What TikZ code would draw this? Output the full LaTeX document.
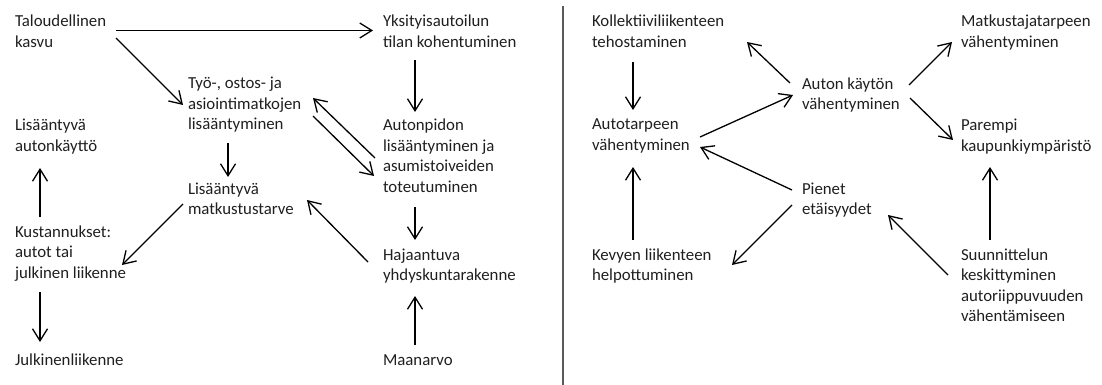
\documentclass[tikz,border=0pt]{standalone}
\usepackage{fontspec}
\setmainfont{Carlito}
\usetikzlibrary{arrows.meta,calc}
\tikzset{
  lbl/.style={anchor=north west, inner sep=0pt, outer sep=0pt, align=left,
    font=\fontsize{16.8}{20.5}\selectfont, text=black!88,
    execute at begin node=\strut, execute at end node=\strut},
  arr/.style={line width=1.3pt, -{Straight Barb[length=12pt,width=15pt]}},
  sep/.style={line width=1.6pt, draw=black!65}
}
\begin{document}
\begin{tikzpicture}[x=1pt,y=-1pt]
\useasboundingbox (0,0) rectangle (1102,385);
% left part
\node[lbl] (tal) at (15,15.15) {Taloudellinen\\kasvu};
\node[lbl] (yks) at (383,15.15) {Yksityisautoilun\\tilan kohentuminen};
\node[lbl] (tyo) at (188,77.15) {Työ-, ostos- ja\\asiointimatkojen\\lisääntyminen};
\node[lbl] (lak) at (15,119.15) {Lisääntyvä\\autonkäyttö};
\node[lbl] (aut) at (383,119.15) {Autonpidon\\lisääntyminen ja\\asumistoiveiden\\toteutuminen};
\node[lbl] (lmt) at (188,182.65) {Lisääntyvä\\matkustustarve};
\node[lbl] (kus) at (15,225.65) {Kustannukset:\\autot tai\\julkinen liikenne};
\node[lbl] (haj) at (383,248.65) {Hajaantuva\\yhdyskuntarakenne};
\node[lbl] (jul) at (15,350.65) {Julkinenliikenne};
\node[lbl] (maa) at (383,350.65) {Maanarvo};
% right part
\node[lbl] (kol) at (592,15.15) {Kollektiiviliikenteen\\tehostaminen};
\node[lbl] (ata) at (592,119.15) {Autotarpeen\\vähentyminen};
\node[lbl] (kev) at (592,248.65) {Kevyen liikenteen\\helpottuminen};
\node[lbl] (akv) at (802,77.65) {Auton käytön\\vähentyminen};
\node[lbl] (pie) at (802,182.65) {Pienet\\etäisyydet};
\node[lbl] (mat) at (961,15.15) {Matkustajatarpeen\\vähentyminen};
\node[lbl] (par) at (961,119.15) {Parempi\\kaupunkiympäristö};
\node[lbl] (suu) at (961,248.65) {Suunnittelun\\keskittyminen\\autoriippuvuuden\\vähentämiseen};
% separator
\coordinate (sepTop) at (563,6);
\coordinate (sepBot) at (563,385);
\draw[sep] (sepTop) -- (sepBot);
% left connectors
\draw[arr] ($(tal.north west)+(101,15.35)$) -- ($(yks.north west)+(-10,15.35)$);
\draw[arr] ($(tal.north west)+(101,22.85)$) -- ($(tyo.north west)+(-5,27.85)$);
\draw[arr] ($(tyo.north west)+(40,65.85)$) -- ($(lmt.north west)+(40,-5.65)$);
\draw[arr] ($(aut.north west)+(-8,38.85)$) -- ($(tyo.north west)+(125,20.85)$);
\draw[arr] ($(tyo.north west)+(125,38.85)$) -- ($(aut.north west)+(-9,56.85)$);
\draw[arr] ($(yks.north west)+(32,44.85)$) -- ($(aut.north west)+(32,-7.15)$);
\draw[arr] ($(aut.north west)+(32,87.85)$) -- ($(haj.north west)+(32,-8.65)$);
\draw[arr] ($(maa.north west)+(32,-5.65)$) -- ($(haj.north west)+(32,47.35)$);
\draw[arr] ($(haj.north west)+(-15,13.35)$) -- ($(lmt.north west)+(119,17.35)$);
\draw[arr] ($(lmt.north west)+(-5,21.35)$) -- ($(kus.north west)+(107,39.35)$);
\draw[arr] ($(kus.north west)+(25,-8.65)$) -- ($(lak.north west)+(25,48.85)$);
\draw[arr] ($(kus.north west)+(25,66.35)$) -- ($(jul.north west)+(25,-8.65)$);
% right connectors
\draw[arr] ($(kol.north west)+(41,46.85)$) -- ($(ata.north west)+(41,-9.15)$);
\draw[arr] ($(kev.north west)+(41,-8.65)$) -- ($(ata.north west)+(41,47.85)$);
\draw[arr] ($(ata.north west)+(108,17.85)$) -- ($(akv.north west)+(-9,17.35)$);
\draw[arr] ($(akv.north west)+(-12,5.35)$) -- ($(kol.north west)+(155,26.85)$);
\draw[arr] ($(pie.north west)+(-10,7.35)$) -- ($(ata.north west)+(108,27.85)$);
\draw[arr] ($(pie.north west)+(-10,22.35)$) -- ($(kev.north west)+(140,16.35)$);
\draw[arr] ($(akv.north west)+(107,7.35)$) -- ($(mat.north west)+(-9,26.85)$);
\draw[arr] ($(akv.north west)+(108,20.35)$) -- ($(par.north west)+(-8,20.85)$);
\draw[arr] ($(suu.north west)+(29,-8.65)$) -- ($(par.north west)+(29,47.85)$);
\draw[arr] ($(suu.north west)+(-13,26.35)$) -- ($(pie.north west)+(86,32.35)$);
\end{tikzpicture}
\end{document}
